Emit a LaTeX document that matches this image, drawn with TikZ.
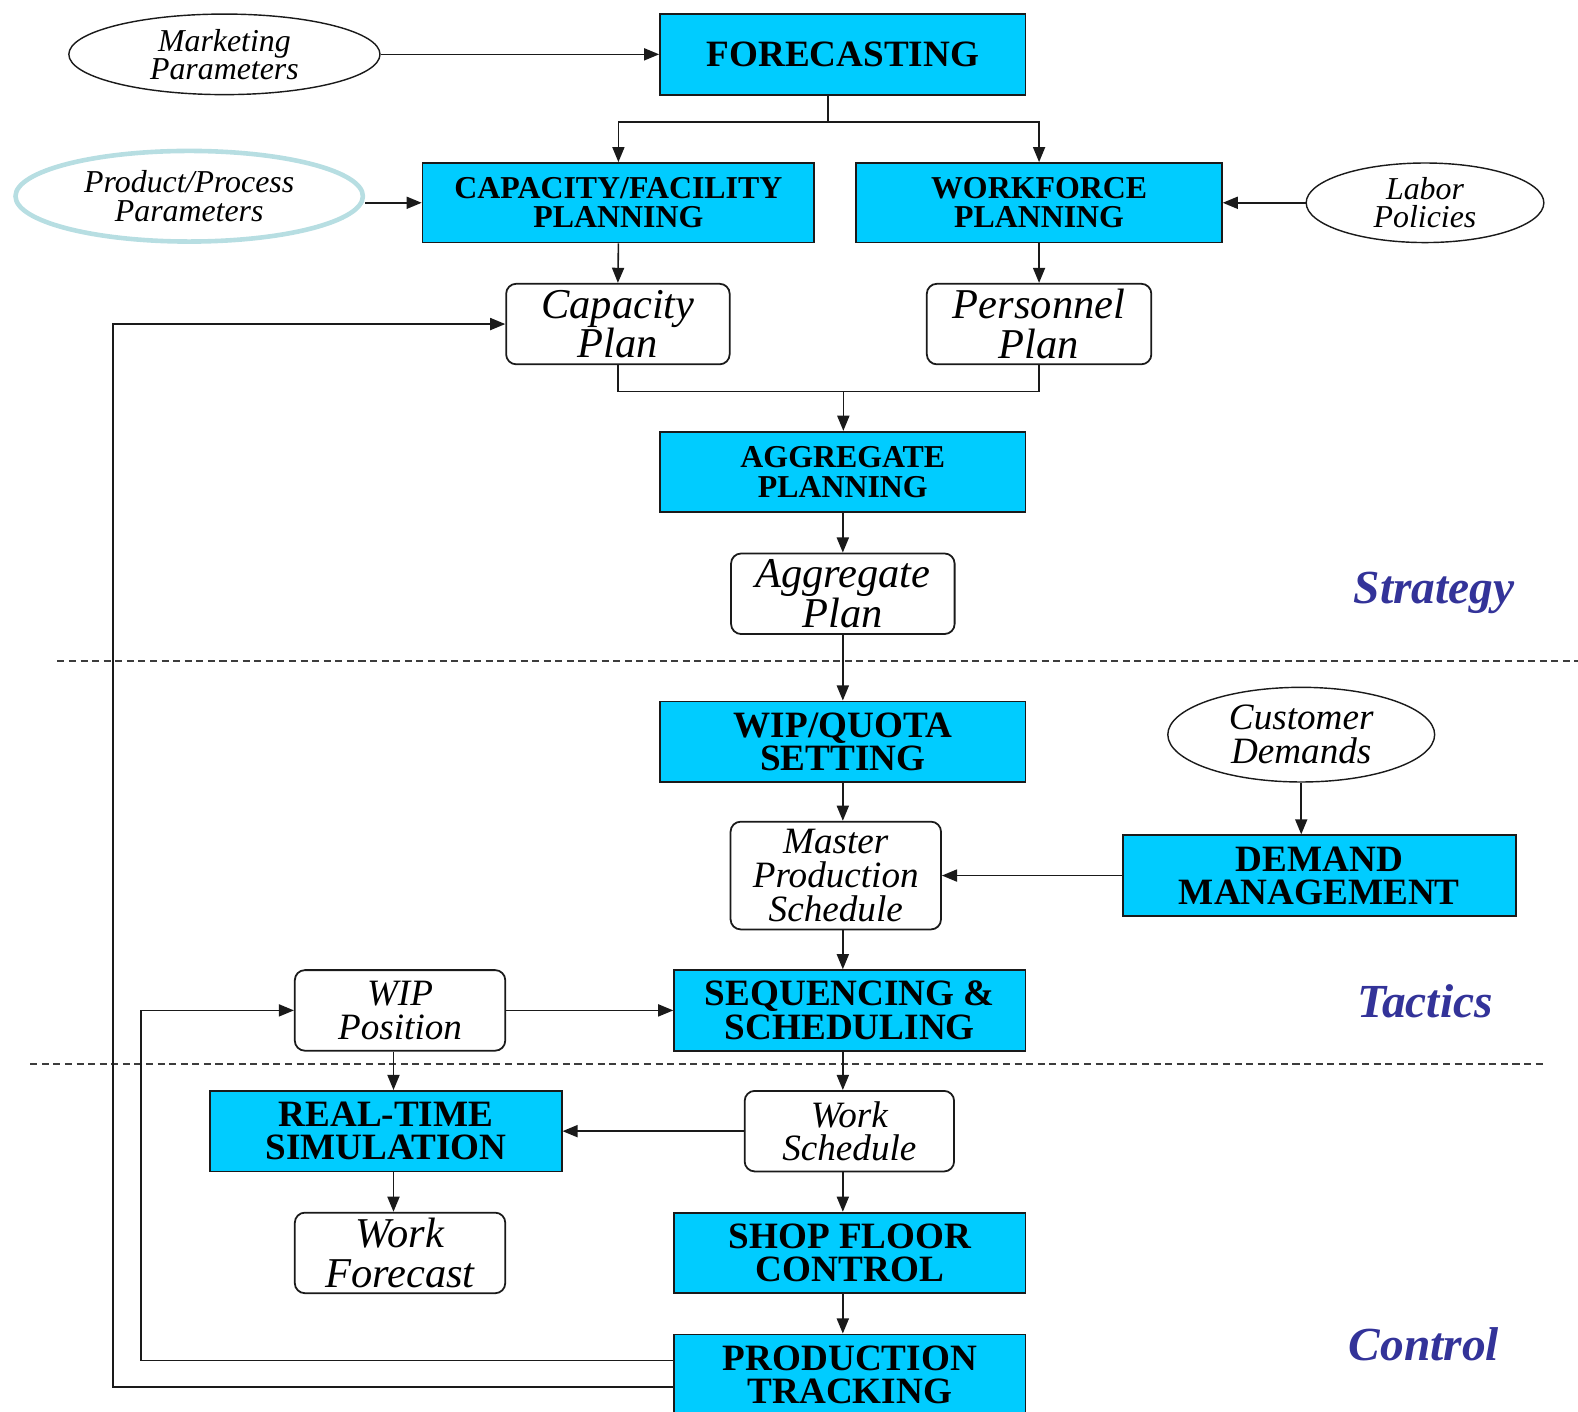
\documentclass[tikz,border=0pt]{standalone}
\usepackage{fontspec}
\setmainfont{Liberation Serif}
\usetikzlibrary{arrows.meta,positioning,calc,shapes.geometric}
\definecolor{pmcyan}{HTML}{00CCFF}
\definecolor{pmteal}{HTML}{B7DEE2}
\definecolor{pmblue}{HTML}{333399}
\definecolor{pmink}{HTML}{1A1A1A}
\newcommand\pmbigbf{\fontsize{10.5}{9.4}\selectfont\bfseries}
\newcommand\pmsmbf{\fontsize{9}{8.3}\selectfont\bfseries}
\newcommand\pmbigit{\fontsize{12}{11.1}\selectfont\itshape}
\newcommand\pmmidit{\fontsize{10.5}{9.5}\selectfont\itshape}
\newcommand\pmsmit{\fontsize{9}{8}\selectfont\itshape}
\tikzset{
  fn/.style={draw=pmink, line width=0.5pt, fill=pmcyan, align=center, inner sep=0pt, font=\pmbigbf},
  fnsm/.style={fn, font=\pmsmbf},
  doc/.style={draw=pmink, line width=0.5pt, fill=white, rounded corners=0.1cm, align=center, inner sep=0pt, font=\pmmidit},
  docbig/.style={doc, font=\pmbigit},
  src/.style={ellipse, draw=pmink, line width=0.4pt, align=center, inner sep=0pt, font=\pmsmit},
  arr/.style={-{Triangle[length=0.15cm, width=0.12cm]}, line width=0.45pt, color=pmink},
  ln/.style={line width=0.45pt, color=pmink},
  sep/.style={line width=0.5pt, color=pmink!85, dash pattern=on 0.07cm off 0.045cm},
  lvl/.style={font=\fontsize{13.4}{14}\selectfont\bfseries\itshape, color=pmblue},
}
\begin{document}
\begin{tikzpicture}[x=0.01cm, y=-0.01cm]
  \useasboundingbox (0,0) rectangle (1568,1403);
  % strategy level
  \node[src, minimum width=3.09cm, minimum height=0.8cm] (mkt) at (223,54) {Marketing\\Parameters};
  \node[fn, minimum width=3.63cm, minimum height=0.8cm] (fc) at (837.5,54) {FORECASTING};
  \node[src, draw=pmteal, line width=1.3pt, minimum width=3.45cm, minimum height=0.9cm] (ppp) at (188,195) {Product/Process\\Parameters};
  \node[fnsm, minimum width=3.89cm, minimum height=0.79cm] (cap) at (614.5,201.5) {CAPACITY/FACILITY\\PLANNING};
  \node[fnsm, minimum width=3.63cm, minimum height=0.79cm] (wf) at (1032.5,201.5) {WORKFORCE\\PLANNING};
  \node[src, minimum width=2.36cm, minimum height=0.79cm] (lab) at (1416,201.5) {Labor\\Policies};
  \node[docbig, minimum width=2.22cm, minimum height=0.8cm] (cp) at (614,322) {Capacity\\Plan};
  \node[docbig, minimum width=2.23cm, minimum height=0.8cm] (pp) at (1032.5,322) {Personnel\\Plan};
  \node[fnsm, minimum width=3.63cm, minimum height=0.8cm] (agg) at (837.5,469) {AGGREGATE\\PLANNING};
  \node[docbig, minimum width=2.22cm, minimum height=0.8cm] (ap) at (837.5,590) {Aggregate\\Plan};
  % tactics level
  \node[fn, minimum width=3.63cm, minimum height=0.8cm] (wq) at (837.5,737) {WIP/QUOTA\\SETTING};
  \node[src, font=\pmmidit, minimum width=2.65cm, minimum height=0.94cm] (cd) at (1293,730) {Customer\\Demands};
  \node[doc, minimum width=2.09cm, minimum height=1.07cm] (mps) at (830.5,870) {Master\\Production\\Schedule};
  \node[fn, minimum width=3.9cm, minimum height=0.8cm] (dm) at (1311,870) {DEMAND\\MANAGEMENT};
  \node[doc, minimum width=2.09cm, minimum height=0.8cm] (wip) at (397.5,1004) {WIP\\Position};
  \node[fn, minimum width=3.49cm, minimum height=0.8cm] (seq) at (844.5,1004) {SEQUENCING \&\\SCHEDULING};
  % control level
  \node[fn, minimum width=3.49cm, minimum height=0.8cm] (rts) at (383.5,1124) {REAL-TIME\\SIMULATION};
  \node[doc, minimum width=2.08cm, minimum height=0.8cm] (ws) at (844,1124) {Work\\Schedule};
  \node[docbig, minimum width=2.09cm, minimum height=0.8cm] (wfc) at (397.5,1245) {Work\\Forecast};
  \node[fn, minimum width=3.49cm, minimum height=0.8cm] (sfc) at (844.5,1245) {SHOP FLOOR\\CONTROL};
  \node[fn, minimum width=3.49cm, minimum height=0.8cm] (pt) at (844.5,1366) {PRODUCTION\\TRACKING};
  % level labels and separators
  \node[lvl] (lstr) at (1425,589) {Strategy};
  \node[lvl] (ltac) at (1416,995) {Tactics};
  \node[lvl] (lctl) at (1415,1336) {Control};
  \draw[sep] (57,657) -- (1568,657);
  \draw[sep] (30,1057) -- (1535,1057);
  % junctions
  \coordinate (fsplit) at (823,121);
  \coordinate (amerge) at (838,389);
  \coordinate (wcol) at (391,1124);
  \coordinate (fb1) at (140,1352);
  \coordinate (fb2) at (112,1378);
  % connectors
  \draw[arr] (mkt.east) -- (fc.west);
  \draw[ln] (fsplit |- fc.south) -- (fsplit);
  \draw[arr] (fsplit) -| (cap.north);
  \draw[arr] (fsplit) -| (wf.north);
  \draw[arr] (ppp.east |- cap.west) -- (cap.west);
  \draw[arr] (lab.west) -- (lab.west -| wf.east);
  \draw[arr] (cap.south) -- (cp.north);
  \draw[arr] (wf.south) -- (pp.north);
  \draw[ln] (cp.south) |- (amerge) -| (pp.south);
  \draw[arr] (amerge) -- (amerge |- agg.north);
  \draw[arr] (agg.south) -- (ap.north);
  \draw[arr] (ap.south) -- (wq.north);
  \draw[arr] (wq.south) -- (wq.south |- mps.north);
  \draw[arr] (cd.south) -- (cd.south |- dm.north);
  \draw[arr] (dm.west) -- (dm.west -| mps.east);
  \draw[arr] (mps.south -| wq.south) -- (wq.south |- seq.north);
  \draw[arr] (wip.east) -- (wip.east -| seq.west);
  \draw[arr] (seq.south -| wq.south) -- (wq.south |- ws.north);
  \draw[arr] (ws.west) -- (ws.west -| rts.east);
  \draw[arr] (wip.south -| wcol) -- (wcol |- rts.north);
  \draw[arr] (rts.south -| wcol) -- (wcol |- wfc.north);
  \draw[arr] (ws.south -| wq.south) -- (wq.south |- sfc.north);
  \draw[arr] (sfc.south -| wq.south) -- (wq.south |- pt.north);
  \draw[arr] (pt.west |- fb1) -- (fb1) |- (wip.west);
  \draw[arr] (pt.west |- fb2) -- (fb2) |- (cp.west);
\end{tikzpicture}
\end{document}
